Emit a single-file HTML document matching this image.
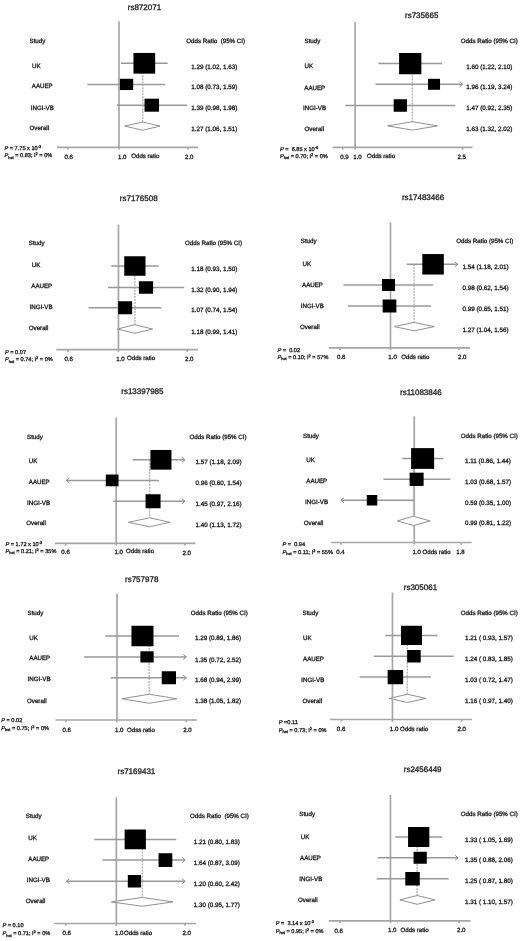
<!DOCTYPE html>
<html><head><meta charset="utf-8"><style>
html,body{margin:0;padding:0;background:#fff;}
svg{display:block;}
text{font-family:"Liberation Sans", sans-serif;fill:#1a1a1a;stroke:#1a1a1a;stroke-width:0.3px;text-rendering:geometricPrecision;}
svg{will-change:transform;}
.l{stroke:#989898;stroke-width:1.5;fill:none;}
.v{stroke:#a6a6a6;stroke-width:1.7;fill:none;}
.a{stroke:#8c8c8c;stroke-width:1;fill:none;}
.d{stroke:#b4b4b4;stroke-width:1.4;stroke-dasharray:2 1;fill:none;}
.dm{stroke:#919191;stroke-width:1;fill:#fff;}
</style></head><body>
<svg width="520" height="941" viewBox="0 0 520 941">
<rect width="520" height="941" fill="#fff"/>
<text x="127.75" y="10.46" font-size="8.0" >rs872071</text>
<line x1="119.00" y1="21.5" x2="119.00" y2="149.5" class="v"/>
<line x1="57" y1="147.3" x2="198" y2="147.3" class="v"/>
<line x1="67.77" y1="147.3" x2="67.77" y2="149.5" class="v"/>
<text x="64.50" y="159.18" font-size="6.1" >0.6</text>
<text x="118.00" y="159.18" font-size="6.1" >1.0</text>
<line x1="188.16" y1="147.3" x2="188.16" y2="149.5" class="v"/>
<text x="185.00" y="159.18" font-size="6.1" >2.0</text>
<text x="131.25" y="157.68" font-size="6.1" >Odds ratio</text>
<text x="29.50" y="42.72" font-size="6.2" >Study</text>
<text x="32.00" y="67.72" font-size="6.2" >UK</text>
<text x="31.75" y="88.22" font-size="6.2" >AAUEP</text>
<text x="30.75" y="109.72" font-size="6.2" >INGI-VB</text>
<text x="29.50" y="130.22" font-size="6.2" >Overall</text>
<text x="186.25" y="42.72" font-size="6.2" >Odds Ratio&#160; (95% CI)</text>
<line x1="142.75" y1="63.3" x2="142.75" y2="126.1" class="d"/>
<line x1="120.83" y1="63.3" x2="167.71" y2="63.3" class="l"/>
<rect x="133.46" y="52.95" width="21.7" height="20.7" fill="#000"/>
<line x1="87.38" y1="84.4" x2="165.22" y2="84.4" class="l"/>
<rect x="119.92" y="78.78" width="13.25" height="11.25" fill="#000"/>
<line x1="116.83" y1="105.2" x2="187.16" y2="105.2" class="l"/>
<rect x="144.53" y="98.70" width="14.5" height="13" fill="#000"/>
<polygon points="124.68,126.1 142.75,122.0 160.06,126.1 142.75,130.2" class="dm"/>
<text x="191.25" y="68.51" font-size="6.3" >1.29 (1.02, 1.63)</text>
<text x="191.25" y="89.26" font-size="6.3" >1.08 (0.73, 1.59)</text>
<text x="191.25" y="109.76" font-size="6.3" >1.39 (0.98, 1.98)</text>
<text x="191.25" y="131.01" font-size="6.3" >1.27 (1.06, 1.51)</text>
<text x="4.50" y="149.50" font-size="5.6" ><tspan font-style="italic">P</tspan> = 7.75 x 10<tspan dy="-2" font-size="3.92">-3</tspan></text>
<text x="4.50" y="157.00" font-size="5.6" ><tspan font-style="italic">P</tspan><tspan dy="1.5" font-size="3.92">het</tspan><tspan dy="-1.5"> = 0.83; I</tspan><tspan dy="-2" font-size="3.92">2</tspan><tspan dy="2"> = 0%</tspan></text>
<text x="405.00" y="18.16" font-size="8.0" >rs735665</text>
<line x1="355.10" y1="22" x2="355.10" y2="149.6" class="v"/>
<line x1="332.5" y1="147.4" x2="472.5" y2="147.4" class="v"/>
<line x1="342.74" y1="147.4" x2="342.74" y2="149.6" class="v"/>
<text x="340.20" y="159.18" font-size="6.1" >0.9</text>
<text x="353.25" y="159.18" font-size="6.1" >1.0</text>
<line x1="462.58" y1="147.4" x2="462.58" y2="149.6" class="v"/>
<text x="457.50" y="159.18" font-size="6.1" >2.5</text>
<text x="367.00" y="158.18" font-size="6.1" >Odds ratio</text>
<text x="304.50" y="42.72" font-size="6.2" >Study</text>
<text x="304.50" y="68.47" font-size="6.2" >UK</text>
<text x="304.25" y="89.72" font-size="6.2" >AAUEP</text>
<text x="303.00" y="110.22" font-size="6.2" >INGI-VB</text>
<text x="304.50" y="130.97" font-size="6.2" >Overall</text>
<text x="460.75" y="42.72" font-size="6.2" >Odds Ratio (95% CI)</text>
<line x1="412.41" y1="63.6" x2="412.41" y2="125.9" class="d"/>
<line x1="378.43" y1="63.6" x2="442.13" y2="63.6" class="l"/>
<rect x="399.11" y="52.98" width="22.25" height="21.25" fill="#000"/>
<line x1="375.50" y1="84.3" x2="462.58" y2="84.3" class="l"/>
<polyline points="459.58,81.8 462.58,84.3 459.58,86.8" class="a"/>
<rect x="428.04" y="78.80" width="12" height="11" fill="#000"/>
<line x1="345.32" y1="105.5" x2="455.32" y2="105.5" class="l"/>
<rect x="393.67" y="99.25" width="13.25" height="12.5" fill="#000"/>
<polygon points="387.67,125.9 412.41,121.7 437.57,125.9 412.41,130.1" class="dm"/>
<text x="466.25" y="68.51" font-size="6.3" >1.60 (1.22, 2.10)</text>
<text x="466.25" y="89.26" font-size="6.3" >1.96 (1.19, 3.24)</text>
<text x="466.25" y="110.26" font-size="6.3" >1.47 (0.92, 2.35)</text>
<text x="466.25" y="131.01" font-size="6.3" >1.63 (1.32, 2.02)</text>
<text x="280.00" y="150.90" font-size="5.6" ><tspan font-style="italic">P</tspan> =&#160; 6.85 x 10<tspan dy="-2" font-size="3.92">-6</tspan></text>
<text x="280.00" y="157.60" font-size="5.6" ><tspan font-style="italic">P</tspan><tspan dy="1.5" font-size="3.92">het</tspan><tspan dy="-1.5"> = 0.70; I</tspan><tspan dy="-2" font-size="3.92">2</tspan><tspan dy="2"> = 0%</tspan></text>
<text x="119.80" y="201.06" font-size="8.0" >rs7176508</text>
<line x1="118.45" y1="224.5" x2="118.45" y2="351.9" class="v"/>
<line x1="56.25" y1="349.7" x2="198" y2="349.7" class="v"/>
<line x1="67.78" y1="349.7" x2="67.78" y2="351.9" class="v"/>
<text x="64.50" y="361.43" font-size="6.1" >0.6</text>
<text x="116.20" y="361.18" font-size="6.1" >1.0</text>
<line x1="187.21" y1="349.7" x2="187.21" y2="351.9" class="v"/>
<text x="185.00" y="360.93" font-size="6.1" >2.0</text>
<text x="127.00" y="359.98" font-size="6.1" >Odds ratio</text>
<text x="28.75" y="245.22" font-size="6.2" >Study</text>
<text x="31.75" y="267.22" font-size="6.2" >UK</text>
<text x="31.25" y="287.97" font-size="6.2" >AAUEP</text>
<text x="29.50" y="308.97" font-size="6.2" >INGI-VB</text>
<text x="28.75" y="329.72" font-size="6.2" >Overall</text>
<text x="185.00" y="245.47" font-size="6.2" >Odds Ratio (95% CI)</text>
<line x1="134.87" y1="266" x2="134.87" y2="329.0" class="d"/>
<line x1="111.25" y1="266" x2="158.67" y2="266" class="l"/>
<rect x="124.24" y="256.25" width="21.25" height="19.5" fill="#000"/>
<line x1="108.00" y1="287.5" x2="184.19" y2="287.5" class="l"/>
<rect x="138.87" y="281.25" width="14.25" height="12.5" fill="#000"/>
<line x1="88.58" y1="307.75" x2="161.28" y2="307.75" class="l"/>
<rect x="118.16" y="301.25" width="14" height="13" fill="#000"/>
<polygon points="117.45,329.0 134.87,324.7 152.53,329.0 134.87,333.3" class="dm"/>
<text x="191.25" y="271.01" font-size="6.3" >1.18 (0.93, 1.50)</text>
<text x="191.25" y="291.76" font-size="6.3" >1.32 (0.90, 1.94)</text>
<text x="191.25" y="312.26" font-size="6.3" >1.07 (0.74, 1.54)</text>
<text x="191.25" y="333.51" font-size="6.3" >1.18 (0.99, 1.41)</text>
<text x="5.00" y="353.70" font-size="5.6" ><tspan font-style="italic">P</tspan> = 0.07</text>
<text x="5.00" y="361.25" font-size="5.6" ><tspan font-style="italic">P</tspan><tspan dy="1.5" font-size="3.92">het</tspan><tspan dy="-1.5"> = 0.74; I</tspan><tspan dy="-2" font-size="3.92">2</tspan><tspan dy="2"> = 0%</tspan></text>
<text x="401.90" y="199.66" font-size="8.0" >rs17483466</text>
<line x1="390.50" y1="222.5" x2="390.50" y2="350.0" class="v"/>
<line x1="328.75" y1="347.8" x2="470" y2="347.8" class="v"/>
<line x1="340.13" y1="347.8" x2="340.13" y2="350.0" class="v"/>
<text x="337.00" y="359.18" font-size="6.1" >0.6</text>
<text x="388.30" y="358.98" font-size="6.1" >1.0</text>
<line x1="458.84" y1="347.8" x2="458.84" y2="350.0" class="v"/>
<text x="458.00" y="359.18" font-size="6.1" >2.0</text>
<text x="401.25" y="358.78" font-size="6.1" >Odds ratio</text>
<text x="300.75" y="243.47" font-size="6.2" >Study</text>
<text x="302.50" y="265.97" font-size="6.2" >UK</text>
<text x="302.00" y="287.22" font-size="6.2" >AAUEP</text>
<text x="300.75" y="307.72" font-size="6.2" >INGI-VB</text>
<text x="300.00" y="328.97" font-size="6.2" >Overall</text>
<text x="456.25" y="243.47" font-size="6.2" >Odds Ratio (95% CI)</text>
<line x1="414.07" y1="264.3" x2="414.07" y2="326.6" class="d"/>
<line x1="406.82" y1="264.3" x2="457.85" y2="264.3" class="l"/>
<polyline points="454.85,261.8 457.85,264.3 454.85,266.8" class="a"/>
<rect x="422.32" y="254.05" width="21.5" height="20.5" fill="#000"/>
<line x1="343.37" y1="285.0" x2="433.07" y2="285.0" class="l"/>
<rect x="382.01" y="279.00" width="13" height="12" fill="#000"/>
<line x1="348.02" y1="306.0" x2="431.13" y2="306.0" class="l"/>
<rect x="382.63" y="299.50" width="13.75" height="13" fill="#000"/>
<polygon points="394.37,326.6 414.07,322.40000000000003 434.35,326.6 414.07,330.8" class="dm"/>
<text x="462.50" y="269.26" font-size="6.3" >1.54 (1.18, 2.01)</text>
<text x="462.50" y="290.26" font-size="6.3" >0.98 (0.62, 1.54)</text>
<text x="462.50" y="311.01" font-size="6.3" >0.99 (0.65, 1.51)</text>
<text x="462.50" y="332.26" font-size="6.3" >1.27 (1.04, 1.56)</text>
<text x="277.50" y="352.00" font-size="5.6" ><tspan font-style="italic">P</tspan> =&#160; 0.02</text>
<text x="277.50" y="358.80" font-size="5.6" ><tspan font-style="italic">P</tspan><tspan dy="1.5" font-size="3.92">het</tspan><tspan dy="-1.5"> = 0.10; I</tspan><tspan dy="-2" font-size="3.92">2</tspan><tspan dy="2"> = 57%</tspan></text>
<text x="121.25" y="393.61" font-size="8.0" >rs13397985</text>
<line x1="116.20" y1="417.5" x2="116.20" y2="545.5" class="v"/>
<line x1="55" y1="543.3" x2="195.5" y2="543.3" class="v"/>
<line x1="65.53" y1="543.3" x2="65.53" y2="545.5" class="v"/>
<text x="61.30" y="554.48" font-size="6.1" >0.6</text>
<text x="114.50" y="554.18" font-size="6.1" >1.0</text>
<line x1="184.96" y1="543.3" x2="184.96" y2="545.5" class="v"/>
<text x="182.50" y="554.68" font-size="6.1" >2.0</text>
<text x="126.00" y="552.68" font-size="6.1" >Odds ratio</text>
<text x="27.00" y="438.97" font-size="6.2" >Study</text>
<text x="28.75" y="462.72" font-size="6.2" >UK</text>
<text x="28.75" y="483.97" font-size="6.2" >AAUEP</text>
<text x="27.00" y="504.72" font-size="6.2" >INGI-VB</text>
<text x="26.25" y="525.22" font-size="6.2" >Overall</text>
<text x="189.50" y="439.22" font-size="6.2" >Odds Ratio (95% CI)</text>
<line x1="149.58" y1="459.8" x2="149.58" y2="522.3" class="d"/>
<line x1="132.62" y1="459.8" x2="184.96" y2="459.8" class="l"/>
<polyline points="181.96,457.3 184.96,459.8 181.96,462.3" class="a"/>
<rect x="150.45" y="449.95" width="21" height="19.7" fill="#000"/>
<line x1="66.35" y1="480.4" x2="159.03" y2="480.4" class="l"/>
<polyline points="69.35,477.9 66.35,480.4 69.35,482.9" class="a"/>
<rect x="105.78" y="474.52" width="12.75" height="11.75" fill="#000"/>
<line x1="113.18" y1="501.25" x2="184.96" y2="501.25" class="l"/>
<polyline points="181.96,498.75 184.96,501.25 181.96,503.75" class="a"/>
<rect x="145.56" y="494.25" width="15" height="14" fill="#000"/>
<polygon points="128.32,522.3 149.58,517.8 170.00,522.3 149.58,526.8" class="dm"/>
<text x="195.50" y="464.01" font-size="6.3" >1.57 (1.18, 2.09)</text>
<text x="195.50" y="484.76" font-size="6.3" >0.96 (0.60, 1.54)</text>
<text x="195.50" y="505.51" font-size="6.3" >1.45 (0.97, 2.16)</text>
<text x="195.50" y="526.51" font-size="6.3" >1.40 (1.13, 1.72)</text>
<text x="5.50" y="545.90" font-size="5.6" ><tspan font-style="italic">P</tspan> = 1.72 x 10<tspan dy="-2" font-size="3.92">-3</tspan></text>
<text x="5.50" y="552.90" font-size="5.6" ><tspan font-style="italic">P</tspan><tspan dy="1.5" font-size="3.92">het</tspan><tspan dy="-1.5"> = 0.21; I</tspan><tspan dy="-2" font-size="3.92">2</tspan><tspan dy="2"> = 35%</tspan></text>
<text x="400.00" y="394.86" font-size="8.0" >rs11083846</text>
<line x1="414.25" y1="416.25" x2="414.25" y2="544.7" class="v"/>
<line x1="331.25" y1="542.5" x2="471.75" y2="542.5" class="v"/>
<line x1="340.95" y1="542.5" x2="340.95" y2="544.7" class="v"/>
<text x="336.25" y="553.93" font-size="6.1" >0.4</text>
<text x="412.50" y="553.93" font-size="6.1" >1.0</text>
<line x1="461.27" y1="542.5" x2="461.27" y2="544.7" class="v"/>
<text x="456.25" y="553.93" font-size="6.1" >1.8</text>
<text x="422.50" y="553.93" font-size="6.1" >Odds ratio</text>
<text x="303.00" y="437.97" font-size="6.2" >Study</text>
<text x="306.25" y="462.22" font-size="6.2" >UK</text>
<text x="306.25" y="483.47" font-size="6.2" >AAUEP</text>
<text x="305.00" y="503.97" font-size="6.2" >INGI-VB</text>
<text x="303.75" y="525.22" font-size="6.2" >Overall</text>
<text x="460.75" y="437.97" font-size="6.2" >Odds Ratio (95% CI)</text>
<line x1="413.45" y1="458.5" x2="413.45" y2="520.9" class="d"/>
<line x1="402.18" y1="458.5" x2="443.42" y2="458.5" class="l"/>
<rect x="411.10" y="448.12" width="23" height="20.75" fill="#000"/>
<line x1="383.40" y1="479.3" x2="450.34" y2="479.3" class="l"/>
<rect x="409.61" y="472.68" width="14.0" height="13.25" fill="#000"/>
<line x1="340.95" y1="500.25" x2="414.25" y2="500.25" class="l"/>
<polyline points="343.95,497.75 340.95,500.25 343.95,502.75" class="a"/>
<rect x="366.79" y="495.00" width="10.5" height="10.5" fill="#000"/>
<polygon points="397.39,520.9 413.45,516.3 430.16,520.9 413.45,525.5" class="dm"/>
<text x="465.00" y="462.76" font-size="6.3" >1.11 (0.86, 1.44)</text>
<text x="465.00" y="484.01" font-size="6.3" >1.03 (0.68, 1.57)</text>
<text x="465.00" y="504.76" font-size="6.3" >0.59 (0.35, 1.00)</text>
<text x="465.00" y="525.26" font-size="6.3" >0.99 (0.81, 1.22)</text>
<text x="282.50" y="545.75" font-size="5.6" ><tspan font-style="italic">P</tspan> =&#160; 0.94</text>
<text x="282.50" y="553.75" font-size="5.6" ><tspan font-style="italic">P</tspan><tspan dy="1.5" font-size="3.92">het</tspan><tspan dy="-1.5"> = 0.11; I</tspan><tspan dy="-2" font-size="3.92">2</tspan><tspan dy="2"> = 55%</tspan></text>
<text x="125.00" y="582.26" font-size="8.0" >rs757978</text>
<line x1="117.00" y1="593.75" x2="117.00" y2="722.2" class="v"/>
<line x1="55.5" y1="720.0" x2="197" y2="720.0" class="v"/>
<line x1="65.92" y1="720.0" x2="65.92" y2="722.2" class="v"/>
<text x="62.50" y="731.68" font-size="6.1" >0.6</text>
<text x="115.00" y="731.68" font-size="6.1" >1.0</text>
<line x1="186.31" y1="720.0" x2="186.31" y2="722.2" class="v"/>
<text x="183.25" y="731.68" font-size="6.1" >2.0</text>
<text x="127.00" y="731.88" font-size="6.1" >Odss ratio</text>
<text x="27.50" y="615.22" font-size="6.2" >Study</text>
<text x="29.25" y="639.72" font-size="6.2" >UK</text>
<text x="29.25" y="660.22" font-size="6.2" >AAUEP</text>
<text x="27.50" y="681.47" font-size="6.2" >INGI-VB</text>
<text x="27.00" y="703.47" font-size="6.2" >Overall</text>
<text x="190.75" y="615.22" font-size="6.2" >Odds Ratio (95% CI)</text>
<line x1="149.21" y1="636.0" x2="149.21" y2="698.75" class="d"/>
<line x1="105.35" y1="636.0" x2="179.06" y2="636.0" class="l"/>
<rect x="131.46" y="625.75" width="22" height="20.5" fill="#000"/>
<line x1="84.15" y1="656.9" x2="186.31" y2="656.9" class="l"/>
<polyline points="183.31,654.4 186.31,656.9 183.31,659.4" class="a"/>
<rect x="140.39" y="651.27" width="13.25" height="11.25" fill="#000"/>
<line x1="110.81" y1="677.75" x2="186.31" y2="677.75" class="l"/>
<polyline points="183.31,675.25 186.31,677.75 183.31,680.25" class="a"/>
<rect x="161.75" y="671.25" width="14.25" height="13" fill="#000"/>
<polygon points="121.88,698.75 149.21,694.25 176.88,698.75 149.21,703.25" class="dm"/>
<text x="195.00" y="640.26" font-size="6.3" >1.29 (0.89, 1.86)</text>
<text x="195.00" y="661.51" font-size="6.3" >1.35 (0.72, 2.52)</text>
<text x="195.00" y="681.76" font-size="6.3" >1.68 (0.94, 2.99)</text>
<text x="195.00" y="703.01" font-size="6.3" >1.38 (1.05, 1.82)</text>
<text x="1.25" y="722.00" font-size="5.6" ><tspan font-style="italic">P</tspan> = 0.02</text>
<text x="1.25" y="729.50" font-size="5.6" ><tspan font-style="italic">P</tspan><tspan dy="1.5" font-size="3.92">het</tspan><tspan dy="-1.5"> = 0.75; I</tspan><tspan dy="-2" font-size="3.92">2</tspan><tspan dy="2"> = 0%</tspan></text>
<text x="403.75" y="589.86" font-size="8.0" >rs305061</text>
<line x1="392.45" y1="592.5" x2="392.45" y2="721.7" class="v"/>
<line x1="330" y1="719.5" x2="472" y2="719.5" class="v"/>
<line x1="341.42" y1="719.5" x2="341.42" y2="721.7" class="v"/>
<text x="336.80" y="731.48" font-size="6.1" >0.6</text>
<text x="389.80" y="730.98" font-size="6.1" >1.0</text>
<line x1="461.70" y1="719.5" x2="461.70" y2="721.7" class="v"/>
<text x="457.50" y="731.18" font-size="6.1" >2.0</text>
<text x="400.10" y="730.98" font-size="6.1" >Odds ratio</text>
<text x="302.50" y="614.72" font-size="6.2" >Study</text>
<text x="303.00" y="640.47" font-size="6.2" >UK</text>
<text x="303.00" y="661.47" font-size="6.2" >AAUEP</text>
<text x="301.25" y="682.22" font-size="6.2" >INGI-VB</text>
<text x="302.50" y="702.97" font-size="6.2" >Overall</text>
<text x="460.75" y="614.72" font-size="6.2" >Odds Ratio (95% CI)</text>
<line x1="407.28" y1="635.4" x2="407.28" y2="698.4" class="d"/>
<line x1="385.20" y1="635.4" x2="437.51" y2="635.4" class="l"/>
<rect x="400.99" y="625.77" width="21" height="19.25" fill="#000"/>
<line x1="373.84" y1="656.25" x2="453.91" y2="656.25" class="l"/>
<rect x="407.19" y="650.00" width="13.5" height="12.5" fill="#000"/>
<line x1="359.63" y1="677.1" x2="430.94" y2="677.1" class="l"/>
<rect x="387.65" y="669.98" width="15.5" height="14.25" fill="#000"/>
<polygon points="389.41,698.4 407.28,694.3 426.06,698.4 407.28,702.5" class="dm"/>
<text x="465.00" y="639.76" font-size="6.3" >1.21 ( 0.93, 1.57)</text>
<text x="465.00" y="661.01" font-size="6.3" >1.24 ( 0.83, 1.85)</text>
<text x="465.00" y="681.76" font-size="6.3" >1.03 ( 0.72, 1.47)</text>
<text x="465.00" y="703.01" font-size="6.3" >1.16 ( 0.97, 1.40)</text>
<text x="278.75" y="724.00" font-size="5.6" ><tspan font-style="italic">P</tspan> =0.11</text>
<text x="278.75" y="731.50" font-size="5.6" ><tspan font-style="italic">P</tspan><tspan dy="1.5" font-size="3.92">het</tspan><tspan dy="-1.5"> = 0.73; I</tspan><tspan dy="-2" font-size="3.92">2</tspan><tspan dy="2"> = 0%</tspan></text>
<text x="117.50" y="774.11" font-size="8.0" >rs7169431</text>
<line x1="116.35" y1="797.5" x2="116.35" y2="925.7" class="v"/>
<line x1="54.25" y1="923.5" x2="196.25" y2="923.5" class="v"/>
<line x1="65.68" y1="923.5" x2="65.68" y2="925.7" class="v"/>
<text x="62.50" y="935.18" font-size="6.1" >0.6</text>
<text x="115.00" y="935.18" font-size="6.1" >1.0</text>
<line x1="185.11" y1="923.5" x2="185.11" y2="925.7" class="v"/>
<text x="182.50" y="935.18" font-size="6.1" >2.0</text>
<text x="124.00" y="935.38" font-size="6.1" >Odds ratio</text>
<text x="25.75" y="818.47" font-size="6.2" >Study</text>
<text x="28.25" y="840.22" font-size="6.2" >UK</text>
<text x="28.25" y="861.47" font-size="6.2" >AAUEP</text>
<text x="26.75" y="882.22" font-size="6.2" >INGI-VB</text>
<text x="25.75" y="902.97" font-size="6.2" >Overall</text>
<text x="190.00" y="818.47" font-size="6.2" >Odds Ratio&#160; (95% CI)</text>
<line x1="142.38" y1="839.4" x2="142.38" y2="901.9" class="d"/>
<line x1="94.21" y1="839.4" x2="176.30" y2="839.4" class="l"/>
<rect x="124.63" y="829.52" width="21.25" height="19.75" fill="#000"/>
<line x1="102.54" y1="860.1" x2="185.11" y2="860.1" class="l"/>
<polyline points="182.11,857.6 185.11,860.1 182.11,862.6" class="a"/>
<rect x="158.55" y="853.23" width="13.75" height="13.75" fill="#000"/>
<line x1="66.50" y1="881.25" x2="185.11" y2="881.25" class="l"/>
<polyline points="182.11,878.75 185.11,881.25 182.11,883.75" class="a"/>
<polyline points="69.50,878.75 66.50,881.25 69.50,883.75" class="a"/>
<rect x="127.81" y="875.00" width="13.25" height="12.5" fill="#000"/>
<polygon points="111.26,901.9 142.38,897.5 172.99,901.9 142.38,906.3" class="dm"/>
<text x="193.75" y="844.01" font-size="6.3" >1.21 (0.80, 1.83)</text>
<text x="193.75" y="864.76" font-size="6.3" >1.64 (0.87, 3.09)</text>
<text x="193.75" y="885.51" font-size="6.3" >1.20 (0.60, 2.42)</text>
<text x="193.75" y="906.51" font-size="6.3" >1.30 (0.95, 1.77)</text>
<text x="2.50" y="927.00" font-size="5.6" ><tspan font-style="italic">P</tspan> = 0.10</text>
<text x="2.50" y="935.00" font-size="5.6" ><tspan font-style="italic">P</tspan><tspan dy="1.5" font-size="3.92">het</tspan><tspan dy="-1.5"> = 0.71; I</tspan><tspan dy="-2" font-size="3.92">2</tspan><tspan dy="2"> = 0%</tspan></text>
<text x="403.75" y="772.11" font-size="8.0" >rs2456449</text>
<line x1="390.45" y1="795" x2="390.45" y2="923.1" class="v"/>
<line x1="328.75" y1="920.9" x2="470.5" y2="920.9" class="v"/>
<line x1="339.88" y1="920.9" x2="339.88" y2="923.1" class="v"/>
<text x="334.50" y="932.68" font-size="6.1" >0.6</text>
<text x="388.00" y="932.18" font-size="6.1" >1.0</text>
<line x1="459.07" y1="920.9" x2="459.07" y2="923.1" class="v"/>
<text x="457.00" y="932.18" font-size="6.1" >2.0</text>
<text x="400.50" y="932.18" font-size="6.1" >Odds ratio</text>
<text x="299.25" y="816.47" font-size="6.2" >Study</text>
<text x="300.75" y="839.22" font-size="6.2" >UK</text>
<text x="300.00" y="860.22" font-size="6.2" >AAUEP</text>
<text x="299.25" y="880.97" font-size="6.2" >INGI-VB</text>
<text x="298.00" y="902.22" font-size="6.2" >Overall</text>
<text x="460.75" y="816.47" font-size="6.2" >Odds Ratio (95% CI)</text>
<line x1="417.18" y1="837.0" x2="417.18" y2="899.9" class="d"/>
<line x1="395.28" y1="837.0" x2="442.40" y2="837.0" class="l"/>
<rect x="408.06" y="827.00" width="21.25" height="20" fill="#000"/>
<line x1="377.79" y1="857.75" x2="458.08" y2="857.75" class="l"/>
<polyline points="455.08,855.25 458.08,857.75 455.08,860.25" class="a"/>
<rect x="413.54" y="851.75" width="13.25" height="12" fill="#000"/>
<line x1="376.66" y1="878.75" x2="448.64" y2="878.75" class="l"/>
<rect x="405.29" y="872.00" width="14.5" height="13.5" fill="#000"/>
<polygon points="399.89,899.9 417.18,895.5 435.11,899.9 417.18,904.3" class="dm"/>
<text x="465.00" y="841.51" font-size="6.3" >1.33 ( 1.05, 1.69)</text>
<text x="465.00" y="862.26" font-size="6.3" >1.35 ( 0.88, 2.06)</text>
<text x="465.00" y="882.76" font-size="6.3" >1.25 ( 0.87, 1.80)</text>
<text x="465.00" y="904.01" font-size="6.3" >1.31 ( 1.10, 1.57)</text>
<text x="275.75" y="924.50" font-size="5.6" ><tspan font-style="italic">P</tspan> =&#160; 3.14 x 10<tspan dy="-2" font-size="3.92">-3</tspan></text>
<text x="275.75" y="932.50" font-size="5.6" ><tspan font-style="italic">P</tspan><tspan dy="1.5" font-size="3.92">het</tspan><tspan dy="-1.5"> = 0.95; I</tspan><tspan dy="-2" font-size="3.92">2</tspan><tspan dy="2"> = 0%</tspan></text>
</svg>
</body></html>
